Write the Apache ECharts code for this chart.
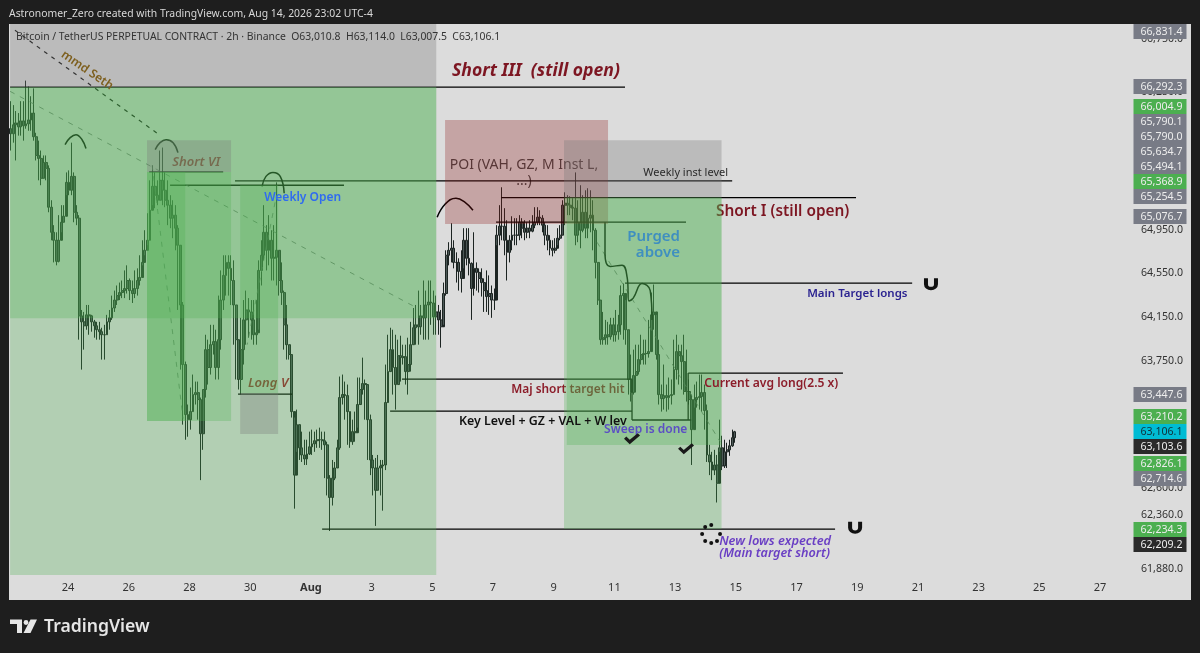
<!DOCTYPE html>
<html><head><meta charset="utf-8">
<style>html,body{margin:0;padding:0;background:#1e1e1e}#c{width:1200px;height:653px}</style>
<script src="https://cdn.jsdelivr.net/npm/echarts@6/dist/echarts.min.js"></script>
</head><body><div id="c"></div>
<script>
const FONT = '"Noto Sans"';
const firstOpen = 65900;
const closes = [65852,65936,65954,65917,65973,65927,65945,65982,66047,65824,
65648,65620,65434,65582,65527,65164,64931,64857,64662,64857,
65024,65080,65396,65322,65452,65117,65062,64160,64105,64069,
64169,64160,64105,64069,64033,64015,63987,63987,64105,64142,
64232,64305,64346,64374,64392,64411,64485,64392,64365,64411,
64485,64513,64652,64764,64857,65136,65359,65276,65229,65415,
65322,65229,65183,65062,65090,64969,64811,64260,63715,63261,
63215,63288,63442,63460,63397,63088,63488,63851,63688,63896,
63924,63688,63942,64305,64532,64652,64597,64485,64260,63942,
63579,63851,64123,64214,64196,64123,63987,64005,64578,64718,
64931,64764,64857,64690,64699,64764,64485,64374,64078,63896,
63806,63288,62716,63170,62961,62897,62861,62906,62970,62997,
63025,63034,63034,63025,62988,62689,62516,62689,62780,62961,
63415,63442,63433,63288,63016,63107,63097,63352,63488,63542,
63533,63215,62852,62780,62580,62780,62798,62807,63370,63651,
63851,63688,63533,63796,63778,63787,63651,63715,63896,64051,
64078,64060,64160,64142,64260,64287,64278,64151,64196,64123,
64060,64365,64718,64764,64783,64652,64652,64569,64504,64857,
64690,64643,64411,64597,64560,64504,64466,64392,64337,64365,
64305,64305,64904,64987,64987,64857,64745,64857,64904,64904,
64904,65024,64969,64931,64969,64941,64997,65024,65071,65062,
64997,64904,64857,64783,64764,64783,64876,64904,65183,65201,
65183,65164,65155,64904,65024,64950,65117,64969,65062,65090,
64950,64652,64305,63942,63960,63987,63969,64078,63987,64015,
64078,64346,64365,64033,63579,63461,63615,63651,63760,63806,
63815,63815,63833,64169,64196,63806,63442,63406,63433,63415,
63433,63442,63669,63833,63796,63742,63470,63470,63397,63125,
63397,63415,63424,63461,63297,62897,62834,62761,62807,62643,
62961,62798,62925,62943,62979,63052,63106];
const highs = [66159,66122,66066,66047,66159,66159,66354,66298,66206,66280,
65861,65787,65694,65648,65648,65555,65229,64997,64931,65090,
65183,65183,65489,65508,65768,65489,65183,65090,64214,64196,
64260,64260,64169,64123,64105,64105,64051,64078,64169,64214,
64346,64392,64439,64466,64485,64578,64625,64504,64485,64578,
64597,64718,64857,64950,65108,65415,65555,65489,65415,65694,
65722,65489,65415,65276,65229,65183,64997,64811,64287,63742,
63352,63506,63624,63560,63560,63415,63488,63987,63942,64078,
64078,64033,64346,64578,64718,64718,64718,64718,64671,64260,
63942,64142,64305,64392,64323,64305,64305,64305,64671,64857,
65183,64997,65090,64950,64997,65396,64764,64652,64392,64260,
63896,63806,63234,63306,63170,63107,63034,63034,63107,63125,
63107,63125,63143,63107,63107,63016,62716,62852,62834,63034,
63606,63624,63560,63533,63288,63215,63288,63597,63597,63778,
63579,63533,63261,62897,62870,62897,62852,62852,63715,63987,
64051,64033,63987,63942,63978,63896,63896,63960,64105,64232,
64260,64392,64260,64485,64392,64485,64485,64392,64346,64260,
64214,64466,64764,64839,65015,64857,64745,64690,64764,64969,
64969,64969,64652,64931,64652,64597,64597,64504,64578,64532,
64439,64411,64997,65183,65350,65155,65043,64904,65080,65062,
65062,65090,65062,65043,65024,65043,65090,65164,65164,65136,
65090,65024,64997,64904,64857,64876,64969,64997,65229,65303,
65276,65266,65248,65489,65229,65369,65276,65322,65341,65322,
65229,64969,64652,64305,64196,64123,64105,64142,64142,64214,
64169,64439,64457,64305,64033,63806,63851,63896,63896,63987,
63942,63942,64123,64374,64448,64169,63942,63533,63715,63533,
63597,63579,63942,63987,63896,63896,63987,63851,63579,63442,
63533,63560,63624,63624,63533,63352,62988,62925,62943,62897,
63215,63070,63034,63007,63034,63125,63114];
const lows = [65694,65768,65601,65834,65834,65787,65899,65880,65880,65787,
65601,65415,65369,65434,65415,65117,64857,64652,64625,64652,
64931,65024,65276,65276,65276,65024,64997,63942,63669,63851,
64033,63987,64015,63960,63942,63942,63760,63760,63987,64033,
64123,64196,64260,64305,64323,64323,64365,64305,64278,64323,
64346,64439,64625,64718,64811,65090,65183,65155,65183,65266,
65183,65164,64997,64969,64876,64764,64214,63669,63170,63034,
63061,63125,63306,63352,63215,62671,62943,63415,63533,63624,
63806,63579,63579,63851,64214,64346,64346,64260,63896,63579,
63488,63442,63715,63896,63960,63942,63896,63896,64033,64439,
64671,64578,64625,64485,64485,64439,64346,64260,63851,63760,
63760,63234,62416,62925,62852,62834,62807,62807,62897,62897,
62925,62961,62961,62943,62689,62534,62217,62444,62671,62780,
62943,63352,63215,62988,62961,62988,63016,63143,63397,63442,
63215,62852,62716,62534,62262,62580,62534,62398,62761,63488,
63651,63442,63306,63533,63560,63715,63533,63442,63651,63896,
63896,63896,63987,63942,63942,63942,64078,63987,63987,63987,
63869,64078,64346,64625,64652,64597,64466,64392,64374,64597,
64625,64532,64123,64346,64392,64374,64337,64196,64196,64169,
64142,64214,64811,64811,64857,64718,64485,64652,64764,64811,
64811,64857,64876,64857,64876,64876,64931,64969,64997,64997,
64931,64811,64764,64718,64708,64736,64811,64857,64904,64997,
65090,65090,65043,64811,64839,64783,64931,64876,64876,64931,
64764,64504,64260,63896,63896,63896,63896,63942,63924,63924,
63942,63987,63942,63896,63442,63379,63442,63461,63624,63715,
63715,63715,63778,64033,64033,63760,63352,63288,63306,63288,
63306,63352,63442,63579,63533,63488,63442,63379,63352,62807,
63324,63324,63306,63288,63125,62834,62716,62671,62716,62471,
62925,62761,62780,62780,62889,62970,63007];

const slotCount = 443;
const dayMin = 22.07, dayMax = 59.02;
const priceMin = 61827, priceMax = 66893;

const xTickDays = [24,26,28,30,32,34,36,38,40,42,44,46,48,50,52,54,56,58];
const xTickLabels = ['24','26','28','30','Aug','3','5','7','9','11','13','15','17','19','21','23','25','27'];
const yTicks = [66750,66250,64950,64550,64150,63750,62600,62360,61880];

const tagValues = [66831.4,66292.3,66004.9,65790.1,65790.0,65634.7,65494.1,65368.9,65254.5,65076.7,63447.6,63210.2,63106.1,63103.6,62826.1,62714.6,62234.3,62209.2];
const tagKinds  = ['g','g','u','g','g','g','g','u','g','g','g','u','c','k','u','g','u','k'];
const tagTops   = [24,79,99,114,129,144,159,174,189,209,387,409,424,439,456,471,522,537];

// zones: day from, day to, price top, price bottom, kind
const zones = [
 [22.09,36.13,66893,66292,'grey'],
 [22.09,36.13,66292,61827,'green'],
 [22.09,36.13,66292,64139,'green'],
 [26.60,29.37,65790,65494,'grey'],
 [26.60,29.37,65494,63202,'green'],
 [26.60,27.86,65494,63202,'green'],
 [29.67,30.92,65372,63454,'green'],
 [29.67,30.92,63454,63085,'grey'],
 [36.42,41.79,65982,65007,'pink'],
 [40.34,45.53,65790,65254,'grey'],
 [40.43,45.53,65254,62986,'green'],
 [40.34,45.53,65254,62234,'green']
];
// segments: day, price, day, price, kind
const segments = [
 [22.09,66292,42.35,66292,'solid'],
 [29.50,65410,45.88,65410,'solid'],
 [27.36,65369,33.09,65369,'solid'],
 [38.27,65254,49.96,65254,'solid'],
 [38.10,65025,44.36,65025,'solid'],
 [42.35,64460,51.81,64460,'solid'],
 [35.00,63582,42.58,63582,'solid'],
 [34.61,63293,42.58,63293,'solid'],
 [42.58,63582,42.58,63212,'solid'],
 [42.58,63212,44.53,63212,'solid'],
 [44.43,63637,44.43,63212,'solid'],
 [44.43,63637,49.53,63637,'solid'],
 [32.37,62234,49.27,62234,'solid'],
 [26.67,65494,29.11,65494,'solid'],
 [29.60,63447,31.38,63447,'solid'],
 [22.25,66833,27.00,65843,'blackDash'],
 [22.09,66252,35.50,64232,'greyDash'],
 [26.77,65555,27.79,63225,'greyDash'],
 [30.82,65210,29.90,63896,'greyDash'],
 [41.43,64838,45.48,63018,'greyDash']
];
const arcs = [
 [[23.90,65750],[24.07,65815],[24.26,65843],[24.46,65796],[24.59,65713]],
 [[26.87,65703],[27.03,65768],[27.23,65796],[27.46,65768],[27.62,65675]],
 [[30.39,65359],[30.52,65452],[30.75,65489],[30.99,65452],[31.12,65294]],
 [[36.16,65071],[36.42,65192],[36.78,65248],[37.08,65210],[37.34,65136]],
 [[41.69,65024],[41.69,64736],[41.86,64615],[42.25,64625],[42.42,64513],[42.48,64296],[42.62,64323],[42.91,64457],[43.18,64392],[43.24,64123]]
];
// day, price, text, font, colour, align, rotation, above-zones
const notes = [
 [36.65,66443,'Short III  (still open)','italic bold 17.6px','#7d1622','left',0,1],
 [24.63,66452,'mmd Seth','600 12px','#7d5f1e','center',-0.6,1],
 [27.43,65582,'Short VI','italic 600 13px','#a01c28','left',0,0],
 [29.93,63542,'Long V','italic 600 13px','#a01d2a','left',0,0],
 [30.46,65254,'Weekly Open','600 12px','#2f6bf0','left',0,1],
 [39.02,65555,'POI (VAH, GZ, M Inst L,','14px','#444444','center',0,0],
 [39.02,65406,'...)','14px','#444444','center',0,0],
 [42.95,65489,'Weekly inst level','11px','#2a2a2a','left',0,1],
 [45.35,65127,'Short I (still open)','600 15.4px','#7d1622','left',0,0],
 [44.16,64894,'Purged','600 15px','#3f8fc0','right',0,1],
 [44.16,64745,'above','600 15px','#3f8fc0','right',0,1],
 [48.35,64365,'Main Target longs','600 11.5px','#2b2390','left',0,1],
 [38.60,63488,'Maj short target hit','600 11.9px','#8c1d2a','left',0,0],
 [44.96,63542,'Current avg long(2.5 x)','600 12.1px','#8c1d2a','left',0,1],
 [36.88,63197,'Key Level + GZ + VAL + W lev','600 12.4px','#111111','left',0,1],
 [41.66,63125,'Sweep is done','600 12px','#5b4fc4','left',0,1],
 [45.45,62128,'New lows expected','italic 600 12.8px','#6a3fc4','left',0,1],
 [45.45,62022,'(Main target short)','italic 600 12.6px','#6a3fc4','left',0,1]
];
const magnets = [[52.43,64450],[49.93,62245]];
const checks = [[42.58,63043],[44.36,62952]];
const dots = [[44.99,62253],[45.19,62271],[44.89,62190],[44.99,62128],[45.19,62110],[45.38,62128],[45.48,62190]];

const headerText = 'Astronomer_Zero created with TradingView.com, Aug 14, 2026 23:02 UTC-4';
const legendText = 'Bitcoin / TetherUS PERPETUAL CONTRACT · 2h · Binance  O63,010.8  H63,114.0  L63,007.5  C63,106.1';

const candles = closes.map((c,i)=>[i===0?firstOpen:closes[i-1], c, lows[i], highs[i]]);
const slots = Array.from({length:slotCount},(_,i)=>String(i));
const zoneFill = {grey:'rgba(120,120,120,0.33)',green:'rgba(76,175,80,0.29)',pink:'rgba(140,20,20,0.28)'};
const segStyle = {
 solid:{stroke:'#000',lineWidth:1.3},
 blackDash:{stroke:'#111',lineWidth:1.2,lineDash:[4,5]},
 greyDash:{stroke:'rgba(90,100,95,0.75)',lineWidth:1,lineDash:[5,6]}
};
const tagFill = {g:'#787b86',u:'#4caf50',c:'#00bcd4',k:'#2a2a2a'};
const fmt = v => v.toLocaleString('en-US',{minimumFractionDigits:1,maximumFractionDigits:1});

function noteSeries(above,z){
 const rows = notes.map((n,i)=>[n[0],n[1],i]).filter(r=>notes[r[2]][7]===above);
 return {type:'custom',xAxisIndex:1,yAxisIndex:0,z,silent:true,clip:false,encode:{x:0,y:1},data:rows,
  renderItem(p,api){
   const n = notes[api.value(2)];
   const c = api.coord([api.value(0),api.value(1)]);
   return {type:'text',x:c[0],y:c[1],rotation:n[6],
     style:{text:n[2],font:n[3]+' '+FONT,fill:n[4],textAlign:n[5],textVerticalAlign:'middle'}};
  }};
}

const tagGraphics = [];
tagValues.forEach((v,i)=>{
 const k = tagKinds[i];
 tagGraphics.push({type:'rect',z:100,silent:true,shape:{x:1133.5,y:tagTops[i],width:53,height:15},style:{fill:tagFill[k]}});
 tagGraphics.push({type:'text',z:101,silent:true,x:1161.5,y:tagTops[i]+8,
   style:{text:fmt(v),font:'10.6px '+FONT,fill:k==='c'?'#10313a':'#ececec',textAlign:'center',textVerticalAlign:'middle'}});
});

const option = {
 animation:false,
 backgroundColor:'#1e1e1e',
 grid:{left:9.5,right:69,top:24,height:551,containLabel:false},
 xAxis:[
  {type:'category',data:slots,show:false,boundaryGap:true},
  {type:'value',min:dayMin,max:dayMax,position:'bottom',
   axisLine:{show:false},axisTick:{show:false},splitLine:{show:false},
   axisLabel:{show:true,customValues:xTickDays,margin:7,hideOverlap:false,showMinLabel:true,showMaxLabel:true,
     color:'#333',fontFamily:FONT,fontSize:11,
     formatter:v=>{const s=xTickLabels[xTickDays.indexOf(v)]; return s==='Aug'?'{b|Aug}':s;},
     rich:{b:{fontWeight:'bold',color:'#333',fontFamily:FONT,fontSize:11}}}}
 ],
 yAxis:[{type:'log',logBase:10,min:priceMin,max:priceMax,position:'right',
   axisLine:{show:false},axisTick:{show:false},splitLine:{show:false},minorTick:{show:false},minorSplitLine:{show:false},
   axisLabel:{show:true,customValues:yTicks,margin:10,color:'#333',fontFamily:FONT,fontSize:10.6,align:'left',
     formatter:v=>fmt(Math.round(v))}}],
 series:[
  {type:'candlestick',xAxisIndex:0,yAxisIndex:0,z:2,barWidth:2.4,clip:false,data:candles,silent:true,
   itemStyle:{color:'#4c5856',color0:'#4c5856',borderColor:'#1c2422',borderColor0:'#1c2422',borderWidth:1}},
  noteSeries(0,3),
  {type:'custom',xAxisIndex:1,yAxisIndex:0,z:3,silent:true,clip:false,encode:{x:[0,2],y:[1,3]},
   data:segments.map((s,i)=>[s[0],s[1],s[2],s[3],i]),
   renderItem(p,api){
    const a=api.coord([api.value(0),api.value(1)]),b=api.coord([api.value(2),api.value(3)]);
    return {type:'line',shape:{x1:a[0],y1:a[1],x2:b[0],y2:b[1]},style:Object.assign({fill:null},segStyle[segments[api.value(4)][4]])};
   }},
  ...arcs.map(a=>({type:'line',xAxisIndex:1,yAxisIndex:0,z:3,silent:true,smooth:0.45,showSymbol:false,symbol:'none',clip:false,
    data:a,lineStyle:{color:'#000',width:1.5}})),
  {type:'custom',xAxisIndex:1,yAxisIndex:0,z:4,silent:true,clip:false,encode:{x:[0,1],y:[2,3]},
   data:zones.map((s,i)=>[s[0],s[1],s[2],s[3],i]),
   renderItem(p,api){
    const a=api.coord([api.value(0),api.value(2)]),b=api.coord([api.value(1),api.value(3)]);
    return {type:'rect',shape:{x:a[0],y:a[1],width:b[0]-a[0],height:b[1]-a[1]},style:{fill:zoneFill[zones[api.value(4)][4]]}};
   }},
  noteSeries(1,5),
  {type:'scatter',xAxisIndex:1,yAxisIndex:0,z:5,silent:true,clip:false,data:magnets,symbol:'path://M0 0h4v7a3 3 0 0 0 6 0V0h4v7a7 7 0 0 1-14 0z',symbolSize:[14,12],itemStyle:{color:'#111',opacity:1}},
  {type:'scatter',xAxisIndex:1,yAxisIndex:0,z:5,silent:true,clip:false,data:checks,symbol:'path://M0 5 L2 3 L5 6 L12 0 L14 2 L5 10 Z',symbolSize:[16,11],itemStyle:{color:'#1a1a1a',opacity:1}},
  {type:'scatter',xAxisIndex:1,yAxisIndex:0,z:5,silent:true,clip:false,data:dots,symbol:'circle',symbolSize:4,itemStyle:{color:'#111',opacity:1}}
 ],
 graphic:[
  {type:'rect',z:-1,silent:true,shape:{x:9,y:24,width:1182,height:576},style:{fill:'#dcdcdc'}},
  {type:'text',z:100,silent:true,x:9,y:14,style:{text:headerText,font:'10.4px '+FONT,fill:'#d8d8d8',textVerticalAlign:'middle'}},
  {type:'text',z:100,silent:true,x:16,y:37,style:{text:legendText,font:'10.4px '+FONT,fill:'#333',textVerticalAlign:'middle'}},
  {type:'polygon',z:100,silent:true,shape:{points:[[10,619.5],[22,619.5],[22,633],[17,633],[17,624],[10,624]]},style:{fill:'#e6e6e6'}},
  {type:'circle',z:100,silent:true,shape:{cx:26,cy:622.5,r:2.4},style:{fill:'#e6e6e6'}},
  {type:'polygon',z:100,silent:true,shape:{points:[[30.5,619.5],[37,619.5],[30.5,633],[23.5,633]]},style:{fill:'#e6e6e6'}},
  {type:'text',z:100,silent:true,x:44,y:627,style:{text:'TradingView',font:'600 17.6px '+FONT,fill:'#e6e6e6',textVerticalAlign:'middle'}},
  ...tagGraphics
 ]
};
echarts.init(document.getElementById('c'),null,{renderer:'canvas'}).setOption(option);
</script></body></html>
